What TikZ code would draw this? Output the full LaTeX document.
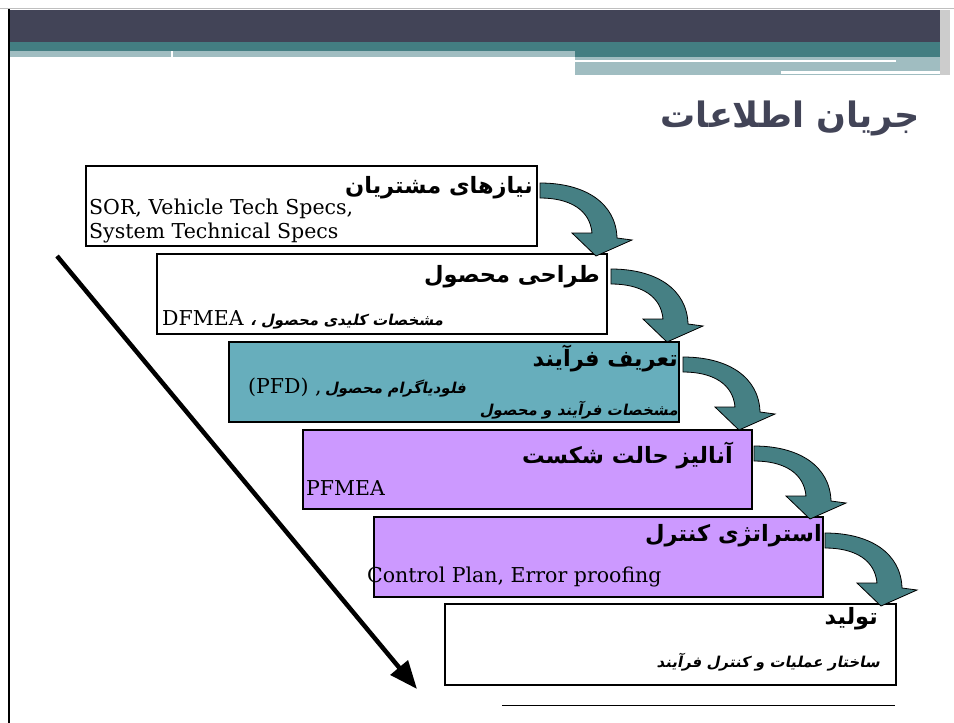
\documentclass[tikz,border=0pt]{standalone}
\usepackage{fontspec}
\usetikzlibrary{arrows.meta}
\TeXXeTstate=1
\newfontfamily\fatitle[Script=Arabic]{DejaVu Sans}
\newfontfamily\fasub[Script=Arabic,FakeSlant=0.2]{DejaVu Sans}
\newfontfamily\latinserif{DejaVu Serif}

\definecolor{slidedark}{HTML}{424457}
\definecolor{slideteal}{HTML}{437E82}
\definecolor{slidelight}{HTML}{A0BDC1}
\definecolor{boxteal}{HTML}{67AEBC}
\definecolor{boxlilac}{HTML}{CC99FF}
\definecolor{arrowteal}{HTML}{468084}

\tikzset{
  stepbox/.style={draw=black, line width=1.2pt, inner sep=0pt, outer sep=0pt, anchor=north west},
  headtext/.style={font=\fatitle\bfseries\fontsize{22.5}{26}\selectfont, inner sep=0pt, anchor=east},
  subtext/.style={font=\fasub\bfseries\fontsize{15}{18}\selectfont, inner sep=0pt},
  spectext/.style={font=\latinserif\fontsize{20.5}{24}\selectfont, inner sep=0pt, anchor=west},
  flowarrow/.style={draw=black, line width=0.8pt, fill=arrowteal},
}

\begin{document}
\begin{tikzpicture}[x=1pt,y=-1pt]
\useasboundingbox (0,0) rectangle (954,723);

% slide header
\fill[slidedark] (9,10) rectangle (947,42);
\fill[slideteal] (9,42) rectangle (947,51);
\fill[slideteal] (575,51) rectangle (947,57);
\fill[slidelight] (9,51) rectangle (575,57);
\fill[white] (171,51) rectangle (173,57);
\fill[slidelight] (575,57) rectangle (940,75);
\fill[white] (575,60) rectangle (896,62);
\fill[white] (781,71) rectangle (940,74);
\fill[gray!40] (940,10) rectangle (950,75);
\draw[gray!50, line width=1pt] (0,8) -- (954,8);
\draw[black, line width=1.5pt] (9,9) -- (9,723);

\node[font=\fatitle\bfseries\fontsize{35}{40}\selectfont, text=slidedark, inner sep=0pt, anchor=east] (pagetitle) at (920,118) {\beginR جریان اطلاعات\endR};

% the six steps
\node[stepbox, fill=white, minimum width=451, minimum height=80] (needs) at (86,166) {};
\node[stepbox, fill=white, minimum width=450, minimum height=80] (design) at (157,254) {};
\node[stepbox, fill=boxteal, minimum width=450, minimum height=80] (process) at (229,342) {};
\node[stepbox, fill=boxlilac, minimum width=449, minimum height=79] (fmea) at (303,430) {};
\node[stepbox, fill=boxlilac, minimum width=449, minimum height=80] (control) at (374,517) {};
\node[stepbox, fill=white, minimum width=451, minimum height=81] (production) at (445,604) {};

\node[headtext] (needstitle) at (533,188) {\beginR نیازهای مشتریان\endR};
\node[spectext, anchor=north west, align=left] (needsspec) at (89,199) {SOR, Vehicle Tech Specs,\\System Technical Specs};

\node[headtext] (designtitle) at (600,277) {\beginR طراحی محصول\endR};
\node[inner sep=0pt, anchor=west] (designspec) at (162,320) {{\latinserif\fontsize{20.5}{24}\selectfont DFMEA}\ \ {\fasub\bfseries\fontsize{15}{18}\selectfont\beginR مشخصات کلیدی محصول ،\endR}};

\node[headtext] (processtitle) at (678,358) {\beginR تعریف فرآیند\endR};
\node[inner sep=0pt, anchor=west] (processspec) at (248,388) {{\latinserif\fontsize{20.5}{24}\selectfont (PFD) ,}\ {\fasub\bfseries\fontsize{15}{18}\selectfont\beginR فلودیاگرام محصول\endR}};
\node[subtext, anchor=east] (processsub) at (678,410) {\beginR مشخصات فرآیند و محصول\endR};

\node[headtext] (fmeatitle) at (733,455) {\beginR آنالیز حالت شکست\endR};
\node[spectext] (fmeaspec) at (306,488) {PFMEA};

\node[headtext] (controltitle) at (822,536) {\beginR استراتژی کنترل\endR};
\node[spectext] (controlspec) at (367,577) {Control Plan, Error proofing};

\node[headtext] (productiontitle) at (878,619) {\beginR تولید\endR};
\node[subtext, anchor=east] (productionsub) at (880,662) {\beginR ساختار عملیات و کنترل فرآیند\endR};

% curved arrows between the steps
\foreach \bx/\by in {540/183, 611/269, 683/357, 754/446, 825/533} {
  \draw[flowarrow, shift={(\bx,\by)}] (0,0) .. controls (45,0) and (76,20) .. (77,55)
    -- (92,57) -- (56,73) -- (32,50) -- (52,50)
    .. controls (50,27) and (30,15) .. (0,15) -- cycle;
}

% long arrow
\coordinate (flowtop) at (57,256);
\coordinate (flowend) at (417,689);
\draw[line width=4.5pt, -{Triangle[length=28pt,width=22pt]}] (flowtop) -- (flowend);

\coordinate (baseleft) at (502,705);
\coordinate (baseright) at (895,705);
\draw[line width=1pt] (baseleft) -- (baseright);
\end{tikzpicture}
\end{document}
